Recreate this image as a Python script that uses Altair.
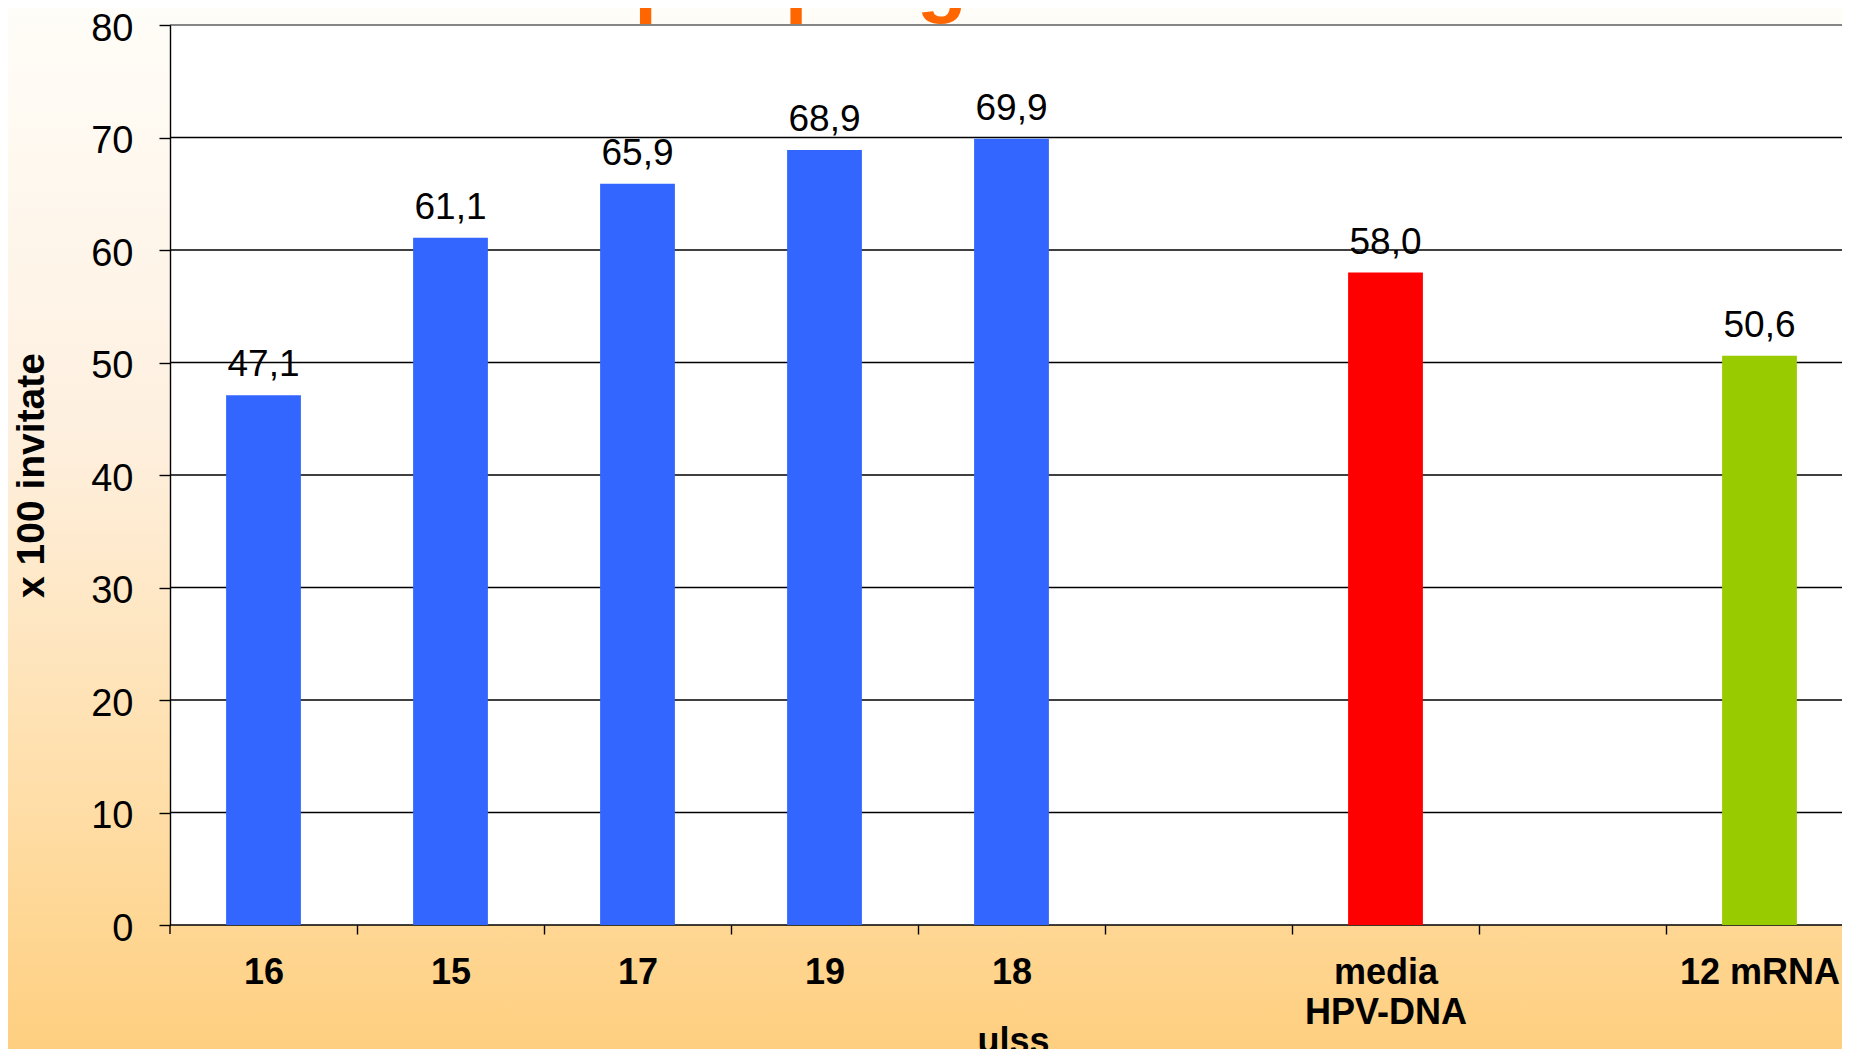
import altair as alt
import pandas as pd

# ---- data ----
categories = ["16", "15", "17", "19", "18", " ", "media|HPV-DNA", "  ", "12 mRNA"]
bar_cats = ["16", "15", "17", "19", "18", "media|HPV-DNA", "12 mRNA"]
bar_values = [47.1, 61.1, 65.9, 68.9, 69.9, 58.0, 50.6]
bar_groups = ["ulss", "ulss", "ulss", "ulss", "ulss", "media", "mrna"]
group_names = ["ulss", "media", "mrna"]
group_colors = ["#3366FF", "#FF0000", "#99CC00"]
y_ticks = [0, 10, 20, 30, 40, 50, 60, 70, 80]
title_text = "per programma"
x_title = "ulss"
y_title = "x 100 invitate"

# ---- layout ----
W, H = 1672, 900
PL, PT, PB = 162, 17, 124
X_RANGE = 1683
STEP = X_RANGE / len(categories)
FONT = "Liberation Sans"

df = pd.DataFrame({"cat": bar_cats, "value": bar_values, "group": bar_groups})
grid_df = pd.DataFrame({"value": y_ticks})
one = pd.DataFrame({"k": [0]})

yscale = alt.Scale(domain=[0, 80], nice=False)
xscale = alt.Scale(domain=categories, range=[0, X_RANGE], paddingInner=0.6, paddingOuter=0.3)

x_axis = alt.Axis(
    title=x_title, domain=False, grid=False,
    ticks=True, tickSize=9, tickColor="black", tickWidth=1.4,
    tickOffset=STEP / 2, labelOffset=-STEP / 2,
    labelFont=FONT, labelFontSize=36, labelFontWeight="bold",
    labelColor="black", labelPadding=49, labelBaseline="alphabetic",
    labelLineHeight=40, labelExpr="split(datum.label, '|')",
    labelAngle=0, labelOverlap=False,
    titleFont=FONT, titleFontSize=36, titleFontWeight="bold",
    titleColor="black", titleX=843, titleY=127,
    titleBaseline="alphabetic", titleAlign="center", zindex=1,
)
y_axis = alt.Axis(
    values=y_ticks, title=y_title, grid=False,
    domainColor="black", domainWidth=1.4,
    tickColor="black", tickSize=11, tickWidth=1.4,
    labelFont=FONT, labelFontSize=38, labelColor="black",
    labelPadding=26, labelBaseline="alphabetic", labelOffset=15,
    titleFont=FONT, titleFontSize=39, titleFontWeight="bold",
    titleColor="black", titleX=-127, titleY=H / 2, titleAngle=270,
    titleBaseline="alphabetic", titleAlign="center", zindex=1,
)

gradient = alt.LinearGradient(
    gradient="linear",
    stops=[
        alt.GradientStop(color="#FFFDF8", offset=0),
        alt.GradientStop(color="#FEF0E0", offset=0.4),
        alt.GradientStop(color="#FFE0AE", offset=0.72),
        alt.GradientStop(color="#FECF80", offset=1),
    ],
    x1=0, x2=0, y1=0, y2=1,
)

bg = alt.Chart(one).mark_rect(color=gradient).encode(
    x=alt.value(-PL), x2=alt.value(W), y=alt.value(-PT), y2=alt.value(H + PB)
)
plot_bg = alt.Chart(one).mark_rect(color="white").encode(
    x=alt.value(0), x2=alt.value(W), y=alt.value(0), y2=alt.value(H)
)
first_tick = alt.Chart(one).mark_rule(color="black", strokeWidth=1.4).encode(
    x=alt.value(0), y=alt.value(H), y2=alt.value(H + 9)
)
grid_black = alt.Chart(grid_df).transform_filter("datum.value < 80").mark_rule(
    color="black", strokeWidth=1.5
).encode(
    y=alt.Y("value:Q", scale=yscale, axis=y_axis), x=alt.value(0), x2=alt.value(W)
)
grid_top = alt.Chart(grid_df).transform_filter("datum.value == 80").mark_rule(
    color="#858585", strokeWidth=2.2
).encode(
    y=alt.Y("value:Q", scale=yscale, axis=y_axis), x=alt.value(0), x2=alt.value(W)
)

bars = alt.Chart(df).mark_bar().encode(
    x=alt.X("cat:N", scale=xscale, sort=categories, axis=x_axis),
    y=alt.Y("value:Q", scale=yscale, axis=y_axis),
    color=alt.Color("group:N", scale=alt.Scale(domain=group_names, range=group_colors), legend=None),
)

labels = alt.Chart(df).transform_calculate(
    label="replace(format(datum.value, '.1f'), '.', ',')"
).mark_text(
    font=FONT, fontSize=37, color="black", baseline="alphabetic", dy=-19
).encode(
    x=alt.X("cat:N", scale=xscale, sort=categories, axis=x_axis),
    y=alt.Y("value:Q", scale=yscale, axis=y_axis),
    text="label:N",
)

title = alt.Chart(one).mark_text(
    text=title_text, font=FONT, fontSize=82, fontWeight="bold",
    color="#FF6600", baseline="alphabetic", align="center"
).encode(x=alt.value(765), y=alt.value(-18))

chart = alt.layer(bg, plot_bg, first_tick, grid_black, grid_top, bars, labels, title).properties(
    width=W, height=H,
    autosize=alt.AutoSizeParams(type="none"),
    padding={"left": PL, "top": PT, "right": 0, "bottom": PB},
    background="white",
).configure_view(stroke=None)

chart.save("out.html", embed_options={"renderer": "svg", "actions": False})
